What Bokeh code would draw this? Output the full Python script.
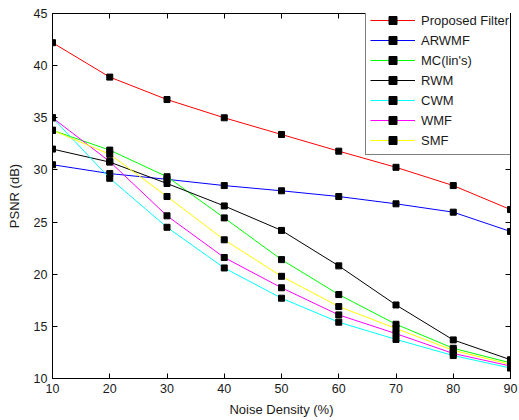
from bokeh.plotting import figure
from bokeh.models import LinearAxis, FixedTicker, Legend, LegendItem, Range1d
from bokeh.embed import file_html
from bokeh.resources import INLINE

noise = [10, 20, 30, 40, 50, 60, 70, 80, 90]
x_ticks = [10, 20, 30, 40, 50, 60, 70, 80, 90]
y_ticks = [10, 15, 20, 25, 30, 35, 40, 45]

proposed = [42.2, 38.9, 36.75, 35.0, 33.4, 31.8, 30.25, 28.5, 26.2]
arwmf = [30.5, 29.65, 29.1, 28.5, 28.0, 27.45, 26.75, 25.95, 24.1]
mc = [33.8, 31.9, 29.35, 25.4, 21.4, 18.05, 15.2, 12.9, 11.5]
rwm = [32.0, 30.75, 28.7, 26.55, 24.2, 20.8, 17.05, 13.7, 11.8]
cwm = [35.0, 29.2, 24.5, 20.6, 17.7, 15.4, 13.75, 12.2, 11.0]
wmf = [35.0, 30.8, 25.6, 21.6, 18.7, 16.1, 14.3, 12.4, 11.2]
smf = [33.8, 31.5, 27.45, 23.3, 19.8, 16.9, 14.8, 12.7, 11.35]

names = ["Proposed Filter", "ARWMF", "MC(lin's)", "RWM", "CWM", "WMF", "SMF"]
series = [proposed, arwmf, mc, rwm, cwm, wmf, smf]
colors = ["#FF0000", "#0000FF", "#00FF00", "#000000", "#00FFFF", "#FF00FF", "#FFFF00"]

FONT = "Liberation Sans"
TXT = "#1a1a1a"

p = figure(width=519, height=420, output_backend="svg", toolbar_location=None,
           x_range=Range1d(10, 90), y_range=Range1d(10, 45),
           min_border_left=52, min_border_right=9, min_border_top=13, min_border_bottom=42)
p.grid.visible = False
p.outline_line_color = "black"
p.outline_line_width = 1
p.background_fill_color = "white"
p.border_fill_color = "white"

for ax, ticks in ((p.xaxis[0], x_ticks), (p.yaxis[0], y_ticks)):
    ax.ticker = FixedTicker(ticks=ticks)
    ax.major_tick_in = 5
    ax.major_tick_out = 0
    ax.minor_tick_line_color = None
    ax.axis_line_color = "black"
    ax.major_tick_line_color = "black"
    ax.major_label_text_font = FONT
    ax.major_label_text_font_size = "12.5px"
    ax.major_label_text_color = TXT
    ax.axis_label_text_font = FONT
    ax.axis_label_text_font_size = "13px"
    ax.axis_label_text_font_style = "normal"
    ax.axis_label_text_color = TXT

p.xaxis[0].axis_label = "Noise Density (%)"
p.yaxis[0].axis_label = "PSNR (dB)"
p.xaxis[0].major_label_standoff = 5
p.xaxis[0].axis_label_standoff = 6
p.yaxis[0].major_label_standoff = 5
p.yaxis[0].axis_label_standoff = 9

for loc, ticks in (("above", x_ticks), ("right", y_ticks)):
    ax = LinearAxis(ticker=FixedTicker(ticks=ticks))
    ax.major_tick_in = 5
    ax.major_tick_out = 0
    ax.minor_tick_line_color = None
    ax.major_label_overrides = {t: "" for t in ticks}
    ax.major_label_standoff = 0
    ax.axis_line_color = "black"
    p.add_layout(ax, loc)

items = []
for name, ys, c in zip(names, series, colors):
    ln = p.line(noise, ys, line_color=c, line_width=1)
    sc = p.scatter(noise, ys, marker="square", size=6, fill_color="black", line_color="black")
    items.append(LegendItem(label=name, renderers=[ln, sc]))

legend = Legend(items=items, location=(313, 223))
legend.border_line_color = "black"
legend.border_line_width = 1
legend.background_fill_color = "white"
legend.background_fill_alpha = 1
legend.label_text_font = FONT
legend.label_text_font_size = "13px"
legend.label_text_color = TXT
legend.glyph_width = 45
legend.glyph_height = 20
legend.label_height = 20
legend.spacing = 0
legend.padding = 4
legend.margin = 0
legend.label_standoff = 6
p.add_layout(legend, "center")

open("out.html", "w").write(file_html(p, INLINE))
